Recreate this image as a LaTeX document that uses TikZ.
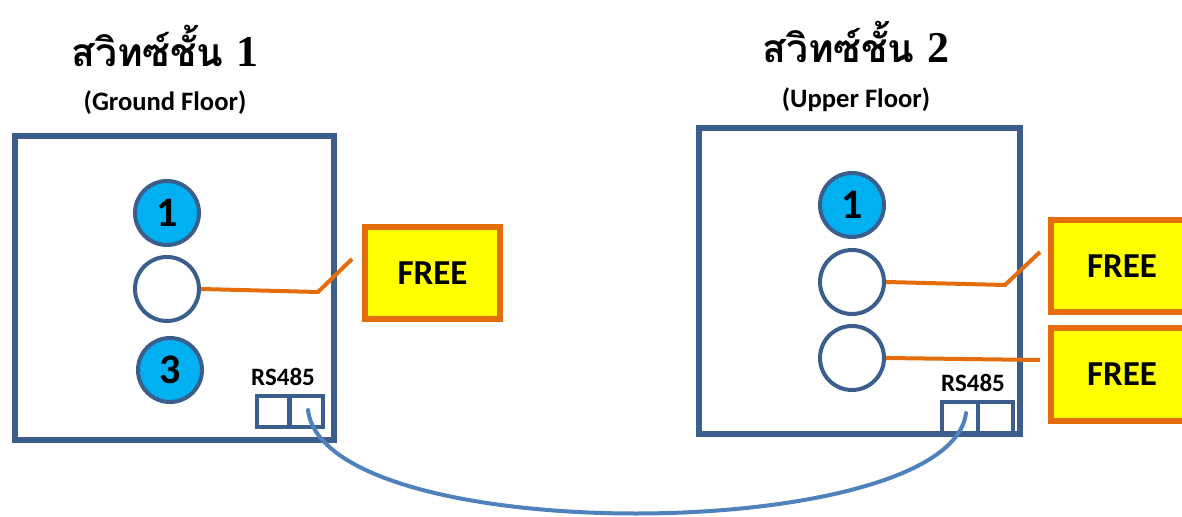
\documentclass[tikz,border=0pt]{standalone}
\usepackage{fontspec}
\setmainfont{Carlito}
\newfontfamily\thaifont[Script=Thai]{Loma}
\newfontfamily\numserif{Liberation Serif}
\definecolor{panelblue}{HTML}{3B5E8C}
\definecolor{keycyan}{HTML}{00B0F0}
\definecolor{wireorange}{HTML}{E46C0A}
\definecolor{cableblue}{HTML}{4F81BD}
\definecolor{freeyellow}{HTML}{FFFF00}
\tikzset{
  panel/.style={draw=panelblue, line width=3pt, fill=white, inner sep=0pt},
  keyon/.style={circle, draw=panelblue, line width=2pt, fill=keycyan, minimum size=32pt, inner sep=0pt, font=\bfseries\fontsize{21}{21}\selectfont},
  keyoff/.style={circle, draw=panelblue, line width=2pt, fill=white, minimum size=32pt, inner sep=0pt},
  freebox/.style={draw=wireorange, line width=3pt, fill=freeyellow, inner sep=0pt, font=\bfseries\fontsize{17.5}{17.5}\selectfont},
  port/.style={draw=panelblue, line width=1.8pt, fill=white, inner sep=0pt, minimum height=15.5pt},
  wire/.style={draw=wireorange, line width=2pt},
  cable/.style={draw=cableblue, line width=2pt, line cap=round},
  title/.style={anchor=base, font=\thaifont\bfseries\fontsize{19.5}{20}\selectfont},
  subtitle/.style={font=\bfseries\fontsize{13.3}{14}\selectfont},
  portlabel/.style={font=\bfseries\fontsize{12.5}{12}\selectfont}
}
\begin{document}
\begin{tikzpicture}[x=0.5pt,y=-0.5pt]
\useasboundingbox (0,0) rectangle (1182,517);
% titles
\node[title] (t1) at (165,67) {สวิทซ์ชั้น {\numserif\bfseries\fontsize{22}{22}\selectfont 1}};
\node[title] (t2) at (856,63) {สวิทซ์ชั้น {\numserif\bfseries\fontsize{22}{22}\selectfont 2}};
\node[subtitle] (s1) at (165,103) {(Ground Floor)};
\node[subtitle] (s2) at (856,100) {(Upper Floor)};
% panels
\node[panel, minimum width=159.5pt, minimum height=152pt] (p1) at (174.5,288) {};
\node[panel, minimum width=160.5pt, minimum height=153pt] (p2) at (859.5,281) {};
% keys left
\node[keyon] (a1) at (167,213) {1};
\node[keyoff] (a2) at (167,289) {};
\node[keyon] (a3) at (170,370) {3};
% keys right
\node[keyon] (b1) at (852,205) {1};
\node[keyoff] (b2) at (852,282) {};
\node[keyoff] (b3) at (852,358) {};
% free boxes
\node[freebox, minimum width=67.5pt, minimum height=46pt] (f1) at (432.5,273) {FREE};
\node[freebox, minimum width=71pt, minimum height=46pt] (f2) at (1122,266) {FREE};
\node[freebox, minimum width=71pt, minimum height=46.5pt] (f3) at (1122,374.5) {FREE};
% wires
\coordinate (w1a) at (318,292);
\coordinate (w1b) at (352,259);
\draw[wire] (a2.east) -- (w1a) -- (w1b);
\coordinate (w2a) at (1005,285);
\coordinate (w2b) at (1040,252);
\draw[wire] (b2.east) -- (w2a) -- (w2b);
\coordinate (w3b) at (1040,360);
\draw[wire] (b3.east) -- (w3b);
% RS485 ports
\node[portlabel] (r1) at (283,377) {RS485};
\node[portlabel] (r2) at (973,383) {RS485};
\node[port, minimum width=16pt] (lp1) at (273,411.5) {};
\node[port, minimum width=16.5pt] (lp2) at (306.5,411.5) {};
\node[port, minimum width=18pt] (rp1) at (960,417.5) {};
\node[port, minimum width=17.5pt] (rp2) at (995.5,417.5) {};
% cable
\coordinate (c1) at (308,410);
\coordinate (c2) at (966,413);
\draw[cable] (c1) .. controls (325,550) and (950,545) .. (c2);
\end{tikzpicture}
\end{document}
